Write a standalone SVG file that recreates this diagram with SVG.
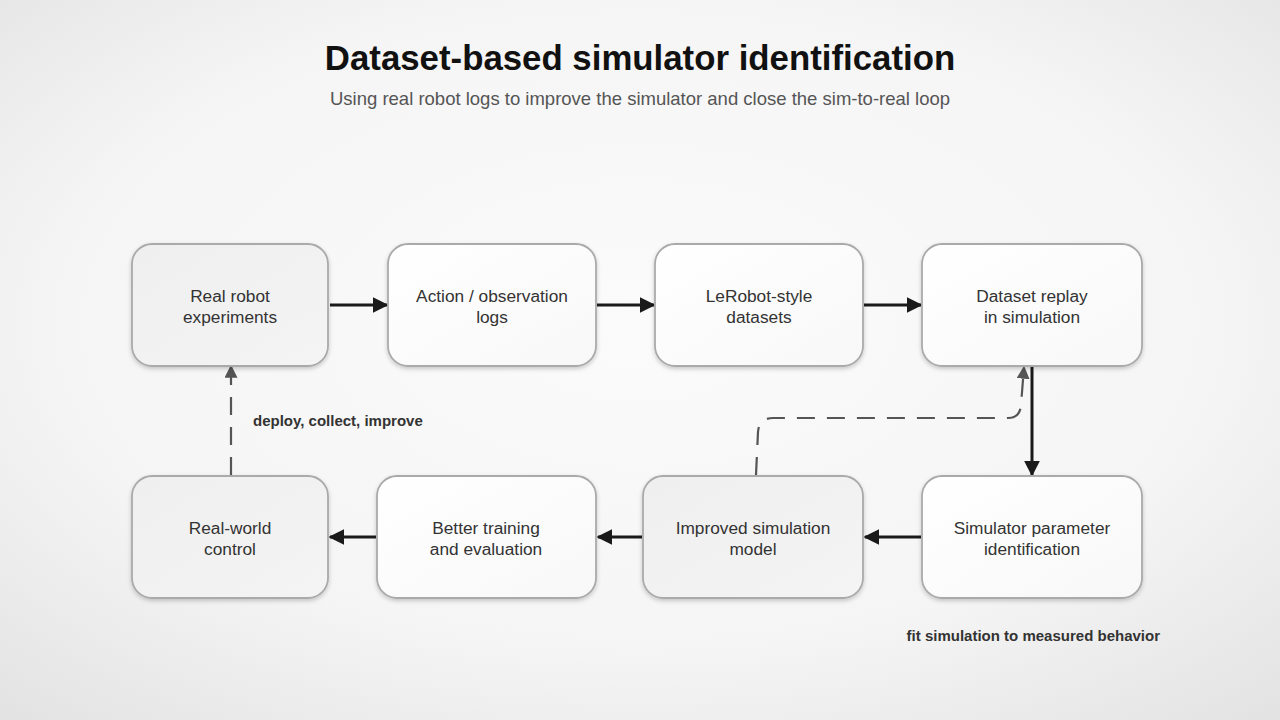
<svg xmlns="http://www.w3.org/2000/svg" width="1280" height="720" viewBox="0 0 1280 720">
  <defs>
    <radialGradient id="bg" cx="50%" cy="45%" r="75%">
      <stop offset="0" stop-color="#fbfbfb"/>
      <stop offset="0.6" stop-color="#f5f5f5"/>
      <stop offset="1" stop-color="#e2e2e2"/>
    </radialGradient>
    <linearGradient id="whiteFill" x1="0" y1="0" x2="1" y2="1">
      <stop offset="0" stop-color="#ffffff"/>
      <stop offset="1" stop-color="#f8f8f8"/>
    </linearGradient>
    <linearGradient id="grayFill" x1="0" y1="0" x2="1" y2="1">
      <stop offset="0" stop-color="#efefef"/>
      <stop offset="1" stop-color="#f4f4f4"/>
    </linearGradient>
    <filter id="shadow" x="-10%" y="-10%" width="120%" height="130%">
      <feDropShadow dx="0" dy="2" stdDeviation="2" flood-color="#000" flood-opacity="0.2"/>
    </filter>
    <marker id="arrowSolid" viewBox="0 0 10 10" refX="9" refY="5" markerWidth="16" markerHeight="16" markerUnits="userSpaceOnUse" orient="auto">
      <path d="M0,0 L10,5 L0,10 z" fill="#1a1a1a"/>
    </marker>
    <marker id="arrowDash" viewBox="0 0 10 10" refX="9" refY="5" markerWidth="13" markerHeight="13" markerUnits="userSpaceOnUse" orient="auto">
      <path d="M0,0 L10,5 L0,10 z" fill="#555"/>
    </marker>
  </defs>
  <style>
    .box { stroke: #aaaaaa; stroke-width: 1.8; filter: url(#shadow); }
    .white { fill: url(#whiteFill); }
    .gray { fill: url(#grayFill); }
    .label { font-family: "Liberation Sans", Arial, sans-serif; font-size: 17.3px; fill: #333; text-anchor: middle; }
    .solid { stroke: #1a1a1a; stroke-width: 3; fill: none; marker-end: url(#arrowSolid); }
    .dash { stroke: #555; stroke-width: 2.2; fill: none; stroke-dasharray: 18 12; marker-end: url(#arrowDash); }
    .note { font-family: "Liberation Sans", Arial, sans-serif; font-size: 15px; font-weight: bold; fill: #333; }
  </style>

  <rect x="0" y="0" width="1280" height="720" fill="url(#bg)"/>

  <text x="640" y="70" text-anchor="middle" font-family="Liberation Sans, Arial, sans-serif" font-size="34.8" font-weight="bold" fill="#111">Dataset-based simulator identification</text>
  <text x="640" y="105" text-anchor="middle" font-family="Liberation Sans, Arial, sans-serif" font-size="18.5" fill="#555">Using real robot logs to improve the simulator and close the sim-to-real loop</text>

  <g id="connectors">
    <line class="solid" x1="330" y1="305" x2="387" y2="305"/>
    <line class="solid" x1="597" y1="305" x2="654" y2="305"/>
    <line class="solid" x1="864" y1="305" x2="921" y2="305"/>
    <line class="solid" x1="1032" y1="367" x2="1032" y2="475"/>
    <line class="solid" x1="921" y1="537" x2="865" y2="537"/>
    <line class="solid" x1="642" y1="537" x2="598" y2="537"/>
    <line class="solid" x1="376" y1="537" x2="330" y2="537"/>
    <line class="dash" x1="231" y1="475" x2="231" y2="366"/>
    <path class="dash" d="M756,475 L758,432 Q759,418 773,418 L1008,418 Q1020,418 1021,405 L1024,367"/>
  </g>

  <g id="n1"><rect class="box gray" x="132" y="244" width="196" height="122" rx="20"/>
    <text class="label" x="230" y="302">Real robot</text><text class="label" x="230" y="323">experiments</text></g>
  <g id="n2"><rect class="box white" x="388" y="244" width="208" height="122" rx="20"/>
    <text class="label" x="492" y="302">Action / observation</text><text class="label" x="492" y="323">logs</text></g>
  <g id="n3"><rect class="box white" x="655" y="244" width="208" height="122" rx="20"/>
    <text class="label" x="759" y="302">LeRobot-style</text><text class="label" x="759" y="323">datasets</text></g>
  <g id="n4"><rect class="box white" x="922" y="244" width="220" height="122" rx="20"/>
    <text class="label" x="1032" y="302">Dataset replay</text><text class="label" x="1032" y="323">in simulation</text></g>
  <g id="n5"><rect class="box white" x="922" y="476" width="220" height="122" rx="20"/>
    <text class="label" x="1032" y="534">Simulator parameter</text><text class="label" x="1032" y="555">identification</text></g>
  <g id="n6"><rect class="box gray" x="643" y="476" width="220" height="122" rx="20"/>
    <text class="label" x="753" y="534">Improved simulation</text><text class="label" x="753" y="555">model</text></g>
  <g id="n7"><rect class="box white" x="377" y="476" width="219" height="122" rx="20"/>
    <text class="label" x="486" y="534">Better training</text><text class="label" x="486" y="555">and evaluation</text></g>
  <g id="n8"><rect class="box gray" x="132" y="476" width="196" height="122" rx="20"/>
    <text class="label" x="230" y="534">Real-world</text><text class="label" x="230" y="555">control</text></g>

  <text class="note" x="253" y="426">deploy, collect, improve</text>
  <text class="note" x="1160" y="641" text-anchor="end">fit simulation to measured behavior</text>
</svg>
